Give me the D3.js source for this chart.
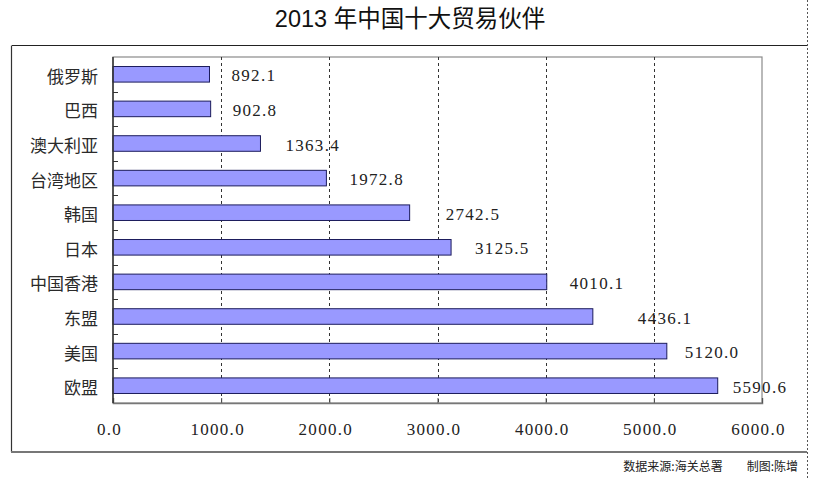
<!DOCTYPE html>
<html>
<head>
<meta charset="utf-8">
<script src="https://cdn.jsdelivr.net/npm/d3@7"></script>
<style>
  html, body { margin: 0; padding: 0; background: #fff; }
  svg { display: block; }
</style>
</head>
<body>
<svg id="chart" width="823" height="480"></svg>
<script>
// ---- data ----
const title = "2013 年中国十大贸易伙伴";
const categories = ["俄罗斯", "巴西", "澳大利亚", "台湾地区", "韩国", "日本", "中国香港", "东盟", "美国", "欧盟"];
const values = [892.1, 902.8, 1363.4, 1972.8, 2742.5, 3125.5, 4010.1, 4436.1, 5120.0, 5590.6];
const xTicks = [0, 1000, 2000, 3000, 4000, 5000, 6000];
const footnote = "数据来源:海关总署　　制图:陈增";

// ---- layout (px) ----
const W = 823, H = 480;
const plot = { left: 113, right: 762, top: 57, bottom: 403 };
const labelGap = [22, 22, 25, 23, 36, 24, 23, 45, 18, 15];
const numFont = "'Liberation Serif', 'DejaVu Serif', serif";

const svg = d3.select("#chart");
svg.append("rect").attr("width", W).attr("height", H).attr("fill", "#fff");

// right dotted page edge
svg.append("line")
  .attr("x1", 807.5).attr("x2", 807.5).attr("y1", 0).attr("y2", H)
  .attr("stroke", "#555").attr("stroke-width", 1).attr("stroke-dasharray", "2,2");

// outer chart frame
svg.append("line").attr("x1", 12).attr("x2", 807).attr("y1", 45.5).attr("y2", 45.5)
  .attr("stroke", "#222").attr("stroke-width", 1.2);
svg.append("line").attr("x1", 11.5).attr("x2", 11.5).attr("y1", 45.5).attr("y2", 452)
  .attr("stroke", "#333").attr("stroke-width", 1.2);
svg.append("line").attr("x1", 11).attr("x2", 807).attr("y1", 452).attr("y2", 452)
  .attr("stroke", "#777").attr("stroke-width", 2);

// title
svg.append("text")
  .attr("x", 410).attr("y", 27)
  .attr("text-anchor", "middle")
  .attr("font-family", "'Liberation Sans', 'Noto Sans CJK SC', sans-serif")
  .attr("font-size", 23.5)
  .attr("fill", "#111")
  .text(title);

// scales
const x = d3.scaleLinear().domain([0, 6000]).range([plot.left, plot.right]);
const y = d3.scaleBand().domain(categories).range([plot.top, plot.bottom])
  .paddingInner(0.55).paddingOuter(0.275);
const step = y.step();

// plot border (gray)
svg.append("rect")
  .attr("x", plot.left).attr("y", plot.top)
  .attr("width", plot.right - plot.left).attr("height", plot.bottom - plot.top)
  .attr("fill", "none").attr("stroke", "#8a8a8a").attr("stroke-width", 1.2);

// gridlines
svg.append("g").selectAll("line")
  .data(xTicks.filter(d => d > 0 && d < 6000))
  .join("line")
  .attr("x1", d => Math.round(x(d)) + 0.5).attr("x2", d => Math.round(x(d)) + 0.5)
  .attr("y1", plot.top).attr("y2", plot.bottom)
  .attr("stroke", "#333").attr("stroke-width", 1).attr("stroke-dasharray", "3,3");

// bottom axis: inward ticks + labels
const xAxis = d3.axisBottom(x).tickValues(xTicks).tickSize(-5).tickFormat(d3.format(".1f"));
const gx = svg.append("g").attr("transform", `translate(0,${plot.bottom})`).call(xAxis);
gx.select(".domain").attr("stroke", "#777").attr("stroke-width", 1.5);
gx.selectAll(".tick line").attr("stroke", "#555");
gx.selectAll(".tick text")
  .attr("font-family", numFont)
  .attr("font-size", 17).attr("letter-spacing", 1.3).attr("fill", "#222")
  .attr("dx", -4).attr("y", 20);

// bars
svg.append("g").selectAll("rect")
  .data(values)
  .join("rect")
  .attr("x", x(0))
  .attr("y", (d, i) => y(categories[i]))
  .attr("width", d => x(d) - x(0))
  .attr("height", y.bandwidth())
  .attr("fill", "#9999ff")
  .attr("stroke", "#1c1c5c").attr("stroke-width", 1);

// left axis line + boundary ticks
const boundaries = d3.range(1, categories.length).map(i => plot.top + step * i);
svg.append("line").attr("x1", plot.left).attr("x2", plot.left)
  .attr("y1", plot.top).attr("y2", plot.bottom)
  .attr("stroke", "#333").attr("stroke-width", 1.5);
svg.append("g").selectAll("line").data(boundaries).join("line")
  .attr("x1", plot.left).attr("x2", plot.left + 5)
  .attr("y1", d => Math.round(d) + 0.5).attr("y2", d => Math.round(d) + 0.5)
  .attr("stroke", "#333").attr("stroke-width", 1);

// category labels
svg.append("g").selectAll("text")
  .data(categories)
  .join("text")
  .attr("x", 98)
  .attr("y", d => y(d) + y.bandwidth() / 2 + 1)
  .attr("text-anchor", "end")
  .attr("dominant-baseline", "central")
  .attr("font-family", "'Noto Sans CJK SC', sans-serif")
  .attr("font-size", 17)
  .attr("fill", "#2a2a2a")
  .text(d => d);

// data labels
const fmt = d3.format(".1f");
svg.append("g").selectAll("text")
  .data(values)
  .join("text")
  .attr("x", (d, i) => x(d) + labelGap[i])
  .attr("y", (d, i) => y(categories[i]) + y.bandwidth() / 2 + 1.5)
  .attr("dominant-baseline", "central")
  .attr("font-family", numFont)
  .attr("font-size", 17)
  .attr("letter-spacing", 1.3)
  .attr("fill", "#222")
  .text(d => fmt(d));

// footnote
svg.append("text")
  .attr("x", 798).attr("y", 471)
  .attr("text-anchor", "end")
  .attr("font-family", "'Noto Sans CJK SC', sans-serif")
  .attr("font-size", 12)
  .attr("fill", "#222")
  .text(footnote);
</script>
</body>
</html>
